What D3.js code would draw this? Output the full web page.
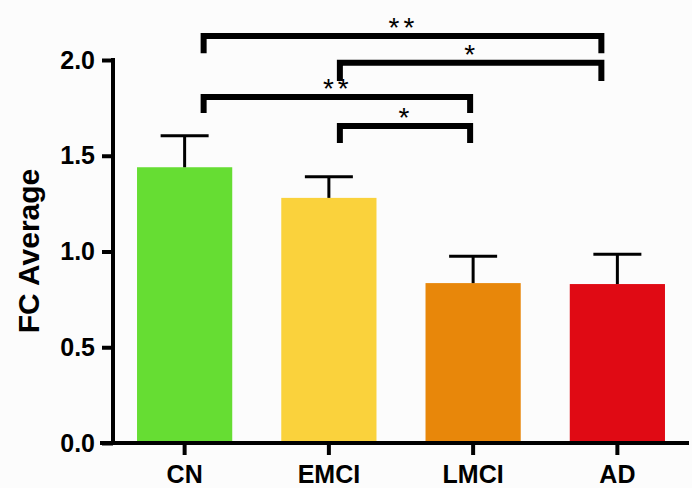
<!DOCTYPE html>
<html>
<head>
<meta charset="utf-8">
<script src="https://cdn.jsdelivr.net/npm/d3@7"></script>
<style>
  body { margin: 0; background: #fcfcfc; }
  svg { display: block; font-family: "Liberation Sans", Arial, sans-serif; }
</style>
</head>
<body>
<svg id="chart"></svg>
<script>
// data
const groups = ["CN", "EMCI", "LMCI", "AD"];
const means = [1.44, 1.28, 0.835, 0.83];
const errors = [0.165, 0.11, 0.14, 0.155];
const barColors = ["#66dd33", "#fad23c", "#e8870a", "#e00a14"];
const yTicks = [0.0, 0.5, 1.0, 1.5, 2.0];

// significance brackets
const brackets = [
  {from: "CN", to: "AD", top: 2.125, foot: 2.035, label: "**"},
  {from: "EMCI", to: "AD", top: 1.985, foot: 1.89, label: "*"},
  {from: "CN", to: "LMCI", top: 1.807, foot: 1.723, label: "**"},
  {from: "EMCI", to: "LMCI", top: 1.655, foot: 1.567, label: "*"}
];
// small shift of bracket ends away from bar centres
const legShift = {CN: 19, EMCI: 11, LMCI: -3, AD: -16};

const width = 692, height = 488;

const svg = d3.select("#chart").attr("width", width).attr("height", height);

const x = d3.scaleBand()
  .domain(groups)
  .range([122.6, 679.4])
  .paddingInner(0.34)
  .paddingOuter(0.1);

const y = d3.scaleLinear().domain([0, 2]).range([443, 60]);

// bars
svg.selectAll("rect.bar")
  .data(groups)
  .join("rect")
  .attr("class", "bar")
  .attr("x", d => x(d))
  .attr("width", x.bandwidth())
  .attr("y", (d, i) => y(means[i]))
  .attr("height", (d, i) => y(0) - y(means[i]))
  .attr("fill", (d, i) => barColors[i]);

// error bars (upper only)
const err = svg.append("g").attr("stroke", "#000").attr("stroke-width", 3);
groups.forEach((g, i) => {
  const cx = x(g) + x.bandwidth() / 2;
  err.append("line")
    .attr("x1", cx).attr("x2", cx)
    .attr("y1", y(means[i])).attr("y2", y(means[i] + errors[i]));
  err.append("line")
    .attr("x1", cx - 24).attr("x2", cx + 24)
    .attr("y1", y(means[i] + errors[i])).attr("y2", y(means[i] + errors[i]));
});

// y axis
const yAxis = svg.append("g")
  .attr("transform", "translate(113,0)")
  .call(d3.axisLeft(y).tickValues(yTicks).tickFormat(d3.format(".1f")).tickSize(11).tickSizeOuter(0).tickPadding(7));
yAxis.select(".domain").attr("stroke-width", 4).attr("d", "M0,443V58");
yAxis.selectAll(".tick line").attr("stroke-width", 4);
yAxis.selectAll(".tick text")
  .attr("font-size", 25).attr("font-weight", "bold").attr("fill", "#000")
  .attr("font-family", "Liberation Sans, Arial, sans-serif");

// x axis
const xAxis = svg.append("g")
  .attr("transform", "translate(0,443)")
  .call(d3.axisBottom(x).tickSize(12).tickSizeOuter(0).tickPadding(10));
xAxis.select(".domain").attr("stroke-width", 4).attr("d", "M100,0H689");
xAxis.selectAll(".tick line").attr("stroke-width", 4);
xAxis.selectAll(".tick text")
  .attr("font-size", 25).attr("font-weight", "bold").attr("fill", "#000")
  .attr("font-family", "Liberation Sans, Arial, sans-serif");

// y label
svg.append("text")
  .attr("transform", "translate(39,251) rotate(-90)")
  .attr("text-anchor", "middle")
  .attr("font-size", 30)
  .attr("font-weight", "bold")
  .text("FC Average");

// brackets
const br = svg.append("g");
brackets.forEach(b => {
  const x1 = x(b.from) + x.bandwidth() / 2 + legShift[b.from];
  const x2 = x(b.to) + x.bandwidth() / 2 + legShift[b.to];
  br.append("path")
    .attr("d", `M${x1},${y(b.foot)}V${y(b.top)}H${x2}V${y(b.foot)}`)
    .attr("fill", "none")
    .attr("stroke", "#000")
    .attr("stroke-width", 6);
  br.append("text")
    .attr("x", (x1 + x2) / 2 + 1)
    .attr("y", y(b.top) + 1)
    .attr("text-anchor", "middle")
    .attr("font-size", 28)
    .attr("letter-spacing", 4)
    .text(b.label);
});
</script>
</body>
</html>
